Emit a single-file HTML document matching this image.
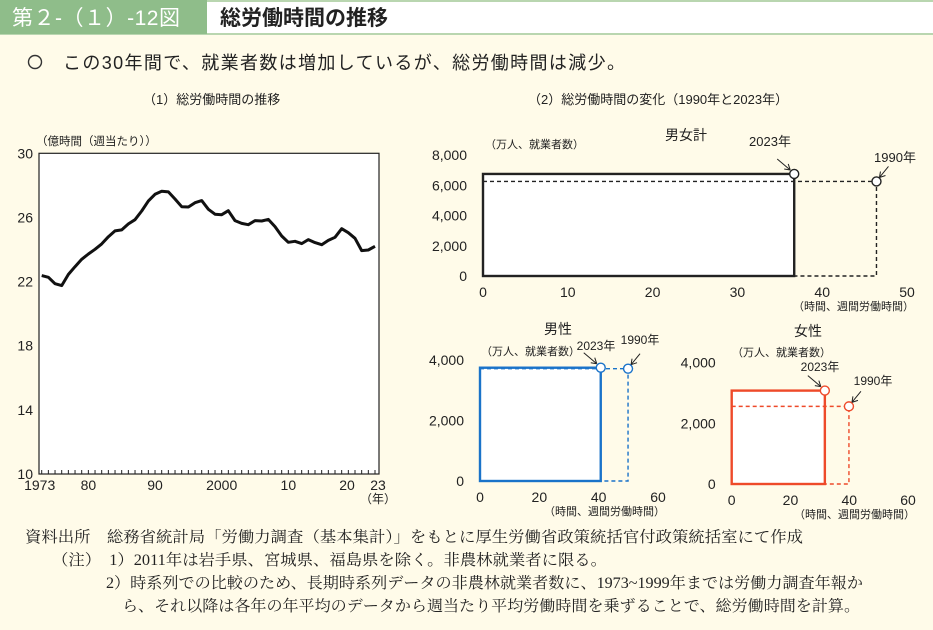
<!DOCTYPE html>
<html><head><meta charset="utf-8">
<style>
html,body{margin:0;padding:0;background:#fffbe9;}
svg{display:block;font-family:"Liberation Sans","Noto Sans CJK JP",sans-serif;}
.note{font-family:"Liberation Serif","Noto Serif CJK SC",serif;font-size:15.5px;fill:#222;}
</style></head>
<body>
<svg id="root" width="933" height="630" viewBox="0 0 933 630" xmlns="http://www.w3.org/2000/svg">
  <rect x="0" y="0" width="933" height="630" fill="#fffbe9"/>
  <rect x="0" y="0" width="933" height="34" fill="#ffffff"/>
  <line x1="0" y1="1" x2="933" y2="1" stroke="#b9d6b0" stroke-width="2"/>
  <line x1="0" y1="34" x2="933" y2="34" stroke="#b9d6b0" stroke-width="2"/>
  <rect x="0" y="0" width="207" height="34" fill="#8fbd8a"/>
  <text x="12" y="25" font-size="21" fill="#fff" textLength="168">第２-（１）-12図</text>
  <text x="220" y="25" font-size="21" font-weight="bold" fill="#222">総労働時間の推移</text>
  <circle cx="35" cy="62" r="6.5" fill="none" stroke="#333" stroke-width="1.4"/>
  <text x="63" y="69" font-size="18" fill="#222" textLength="562">この30年間で、就業者数は増加しているが、総労働時間は減少。</text>

  <text x="143" y="104" font-size="13" fill="#222">（1）総労働時間の推移</text>
  <text x="528" y="104" font-size="13" fill="#222">（2）総労働時間の変化（1990年と2023年）</text>

  <g id="lineChart">
    <text x="36" y="145" font-size="11.5" fill="#222">（億時間（週当たり））</text>
    <rect x="39" y="153.3" width="340" height="320.7" fill="#fff" stroke="#222" stroke-width="1.2"/>
    <g id="lyticks"></g>
    <g id="lxticks"></g>
    <text x="360" y="503" font-size="12" fill="#222">（年）</text>
  </g>

  <g id="boxCharts"></g>

  <text class="note" x="25" y="542" textLength="778" lengthAdjust="spacingAndGlyphs">資料出所　総務省統計局「労働力調査（基本集計）」をもとに厚生労働省政策統括官付政策統括室にて作成</text>
  <text class="note" x="52" y="565" textLength="555" lengthAdjust="spacingAndGlyphs">（注）　1）2011年は岩手県、宮城県、福島県を除く。非農林就業者に限る。</text>
  <text class="note" x="106" y="588" textLength="757" lengthAdjust="spacingAndGlyphs">2）時系列での比較のため、長期時系列データの非農林就業者数に、1973~1999年までは労働力調査年報か</text>
  <text class="note" x="122" y="611" textLength="738" lengthAdjust="spacingAndGlyphs">ら、それ以降は各年の年平均のデータから週当たり平均労働時間を乗ずることで、総労働時間を計算。</text>
</svg>
<script>
const NS="http://www.w3.org/2000/svg";
const years=[1973,1974,1975,1976,1977,1978,1979,1980,1981,1982,1983,1984,1985,1986,1987,1988,1989,1990,1991,1992,1993,1994,1995,1996,1997,1998,1999,2000,2001,2002,2003,2004,2005,2006,2007,2008,2009,2010,2011,2012,2013,2014,2015,2016,2017,2018,2019,2020,2021,2022,2023];
const totalHours=[22.37,22.27,21.87,21.75,22.45,22.93,23.39,23.72,24.01,24.35,24.8,25.16,25.22,25.6,25.86,26.4,27.03,27.44,27.63,27.59,27.15,26.67,26.65,26.92,27.05,26.51,26.2,26.17,26.42,25.8,25.63,25.55,25.8,25.78,25.88,25.43,24.84,24.45,24.51,24.37,24.62,24.43,24.3,24.57,24.76,25.3,25.05,24.7,23.93,23.97,24.2];
const yTicks=[10,14,18,22,26,30];
const xTickYears=[1973,1980,1990,2000,2010,2020,2023];
const xTickLabels=["1973","80","90","2000","10","20","23"];

const panelNames=["total","male","female"];
const panelTitles=["男女計","男性","女性"];
const hours2023=[36.7,40.7,31.7];
const workers2023=[6747,3745,3080];
const hours1990=[46.4,49.9,39.9];
const workers1990=[6249,3713,2560];
const xTicksPanels=[[0,10,20,30,40,50],[0,20,40,60],[0,20,40,60]];
const yTicksPanels=[[0,2000,4000,6000,8000],[0,2000,4000],[0,2000,4000]];

function mk(tag,attrs,parent,text){const e=document.createElementNS(NS,tag);for(const k in attrs)e.setAttribute(k,attrs[k]);if(text!==undefined)e.textContent=text;parent.appendChild(e);return e;}

const lx=y=>41.7+(y-1973)*(375-41.7)/50;
const ly=v=>474-(v-10)*(474-153.3)/20;
const lc=document.getElementById('lineChart');
const yt=document.getElementById('lyticks');
yTicks.forEach(v=>{const t=mk('text',{x:33,y:ly(v)+5,'font-size':14,'text-anchor':'end',fill:'#222'},yt,String(v));

});
const xt=document.getElementById('lxticks');
years.forEach(y=>{const l=mk('line',{x1:lx(y),x2:lx(y),y1:474,y2:470,stroke:'#222','stroke-width':1},xt);

});
xTickYears.forEach((y,i)=>{let x=lx(y);if(i===5)x-=8;if(i===6)x+=3;if(i===0)x-=2;
const t=mk('text',{x:x,y:490,'font-size':14,'text-anchor':'middle',fill:'#222'},xt,xTickLabels[i]);

});
const pts=years.map((y,i)=>lx(y).toFixed(1)+','+ly(totalHours[i]).toFixed(1)).join(' ');
const pl=mk('polyline',{points:pts,fill:'none',stroke:'#111','stroke-width':3,'stroke-linejoin':'round'},lc);



const geo=[
 {x0:483,x1:907,xmax:50,y0:276,ytop:155,ymax:8000,color:'#222',titleX:686,titleY:140,unitX:485,unitY:148,lab2023:[770,146],lab1990:[895,162],fs:13},
 {x0:480,x1:658,xmax:60,y0:481,ytop:360,ymax:4000,color:'#1a73c9',titleX:558,titleY:334,unitX:481,unitY:355,lab2023:[596,350],lab1990:[640,344],fs:12},
 {x0:731.7,x1:908,xmax:60,y0:484,ytop:362.7,ymax:4000,color:'#ee4a2a',titleX:808,titleY:336,unitX:732,unitY:356,lab2023:[820,371],lab1990:[873,385],fs:12}
];
const bc=document.getElementById('boxCharts');
panelNames.forEach((p,i)=>{
 const g=geo[i];
 const sx=v=>g.x0+v*(g.x1-g.x0)/g.xmax;
 const sy=v=>g.y0-v*(g.y0-g.ytop)/g.ymax;
 const grp=mk('g',{},bc);
 
 
 const tt=mk('text',{x:g.titleX,y:g.titleY,'font-size':14,'text-anchor':'middle',fill:'#222'},grp,panelTitles[i]);
 
 
 const ut=mk('text',{x:g.unitX,y:g.unitY,'font-size':11,fill:'#222'},grp,'（万人、就業者数）');
 
 
 const xu=mk('text',{x:g.x1+7,y:g.y0+34,'font-size':11,'text-anchor':'end',fill:'#222'},grp,'（時間、週間労働時間）');
 
 
 yTicksPanels[i].forEach(v=>{const t=mk('text',{x:g.x0-16,y:sy(v)+5,'font-size':14,'text-anchor':'end',fill:'#222'},grp,v.toLocaleString('en-US'));
 
 });
 xTicksPanels[i].forEach(v=>{const t=mk('text',{x:sx(v),y:g.y0+21,'font-size':14,'text-anchor':'middle',fill:'#222'},grp,String(v));
 
 });
 const dx=sx(hours1990[i]),dy=sy(workers1990[i]);
 const d=mk('polyline',{points:`${g.x0},${dy} ${dx},${dy} ${dx},${g.y0} ${g.x0},${g.y0}`,fill:'none',stroke:g.color,'stroke-width':1.4,'stroke-dasharray':'4,3'},grp);
 
 
 const bx=sx(hours2023[i]),by=sy(workers2023[i]);
 const r=mk('rect',{x:g.x0,y:by,width:bx-g.x0,height:g.y0-by,fill:'#fff',stroke:g.color,'stroke-width':2.4},grp);
 
 
 const dl=mk('line',{x1:g.x0,y1:dy,x2:bx,y2:dy,stroke:g.color,'stroke-width':1.4,'stroke-dasharray':'4,3'},grp);
 
 
 const c1=mk('circle',{cx:bx,cy:by,r:4.5,fill:'#fff',stroke:g.color,'stroke-width':1.4},grp);
 
 
 const c2=mk('circle',{cx:dx,cy:dy,r:4.5,fill:'#fff',stroke:g.color,'stroke-width':1.4},grp);
 
 
 const l1=mk('text',{x:g.lab2023[0],y:g.lab2023[1],'font-size':g.fs,'text-anchor':'middle',fill:'#222'},grp,'2023年');
 
 
 const l2=mk('text',{x:g.lab1990[0],y:g.lab1990[1],'font-size':g.fs,'text-anchor':'middle',fill:'#222'},grp,'1990年');
 
 
 const a1=mk('path',{d:`M${bx-17},${by-15} L${bx-4},${by-4} M${bx-4},${by-4} l-2,-6 M${bx-4},${by-4} l-6,-1`,stroke:'#222','stroke-width':1,fill:'none'},grp);
 
 
 const a2=mk('path',{d:`M${dx+12},${dy-15} L${dx+3},${dy-4} M${dx+3},${dy-4} l1,-6 M${dx+3},${dy-4} l6,-2`,stroke:'#222','stroke-width':1,fill:'none'},grp);
 
 
});
</script>
</body></html>
